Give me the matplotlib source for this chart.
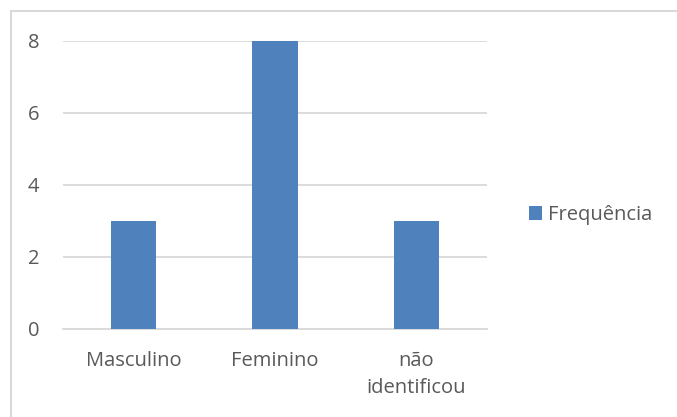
import matplotlib.pyplot as plt
from matplotlib.lines import Line2D

# Frequência por sexo
categorias = ["Masculino", "Feminino", "não\nidentificou"]
frequencia = [3, 8, 3]
y_ticks = [0, 2, 4, 6, 8]

COR_BARRA = "#4F81BD"
COR_GRADE = "#D9D9D9"
COR_TEXTO = "#595959"
FONTE = 14.5

plt.rcParams["font.family"] = ["Open Sans", "DejaVu Sans"]

fig = plt.figure(figsize=(6.77, 4.17), dpi=100)
W, H = 677, 417
ax = fig.add_axes([63 / W, (H - 329) / H, (487 - 63) / W, (329 - 41) / H])

x = range(len(categorias))
ax.bar(x, frequencia, width=0.32, color=COR_BARRA, label="Frequência", zorder=3)

ax.set_xlim(-0.5, len(categorias) - 0.5)
ax.set_ylim(0, 8)
ax.set_yticks(y_ticks)
ax.set_xticks(list(x))
ax.set_xticklabels(categorias, color=COR_TEXTO, fontsize=FONTE, linespacing=1.45)
ax.tick_params(axis="y", labelcolor=COR_TEXTO, labelsize=FONTE, length=0, pad=17)
ax.tick_params(axis="x", length=0, pad=16)
ax.yaxis.grid(True, color=COR_GRADE, linewidth=1.3, zorder=0)
for lado in ["top", "right", "left"]:
    ax.spines[lado].set_visible(False)
ax.spines["bottom"].set_color(COR_GRADE)
ax.spines["bottom"].set_linewidth(1.3)

leg = fig.legend(loc="center left", bbox_to_anchor=(529 / W, (H - 215) / H),
                 frameon=False, fontsize=FONTE, handlelength=0.65, handleheight=0.65,
                 handletextpad=0.3, borderpad=0, borderaxespad=0)
for t in leg.get_texts():
    t.set_color(COR_TEXTO)

# moldura do gráfico (lados superior e esquerdo)
x0, y0 = 10.5 / W, (H - 10.5) / H
fig.add_artist(Line2D([x0, 1.0], [y0, y0], transform=fig.transFigure,
                      color=COR_GRADE, linewidth=1.5))
fig.add_artist(Line2D([x0, x0], [0.0, y0], transform=fig.transFigure,
                      color=COR_GRADE, linewidth=1.5))

fig.savefig("out.png", dpi=100)
